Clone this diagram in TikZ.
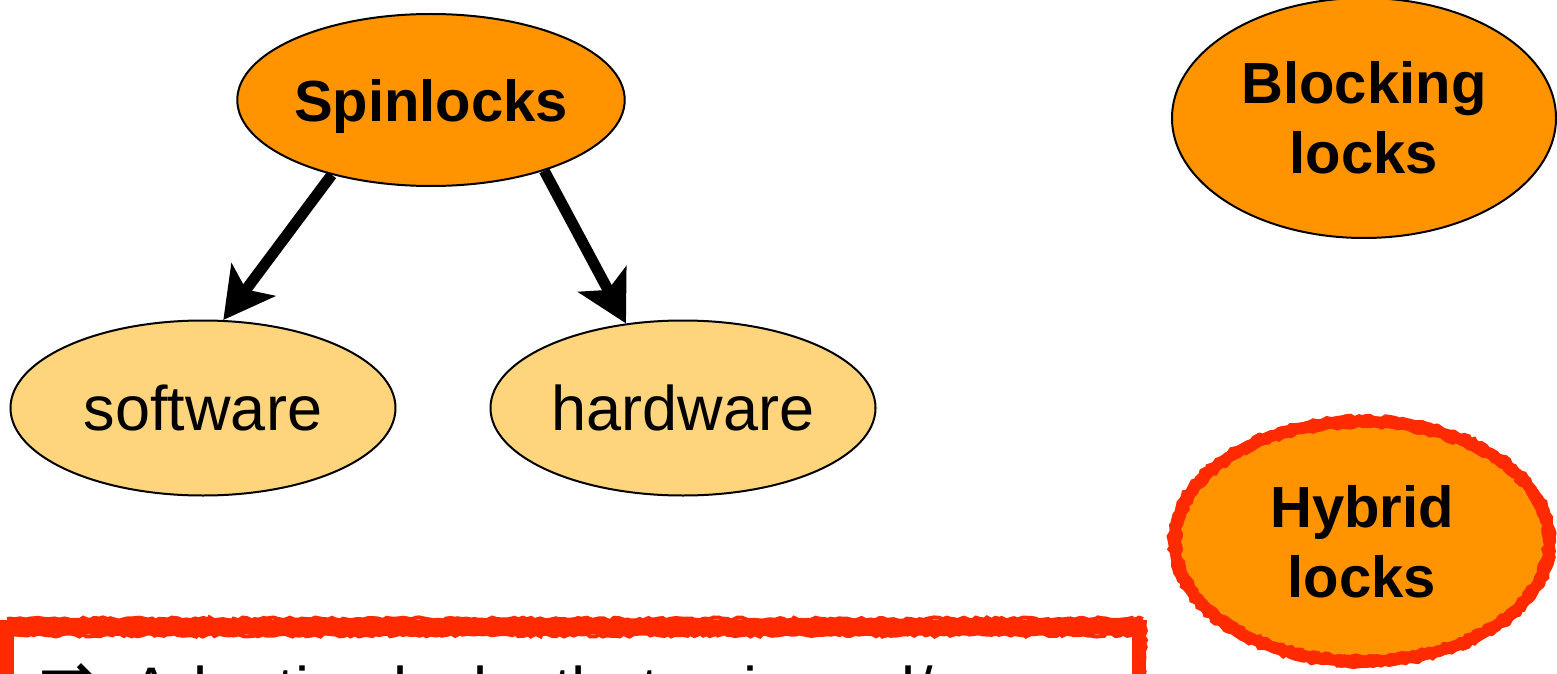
\documentclass[tikz,border=0pt]{standalone}
\usepackage{fontspec}
\setmainfont{Liberation Sans}
\newfontfamily\symfont{DejaVu Sans}
\usetikzlibrary{shapes.geometric,arrows.meta,decorations.pathmorphing}
\definecolor{lockorange}{HTML}{FF9400}
\definecolor{locklight}{HTML}{FED47D}
\definecolor{chalkred}{HTML}{FF2A00}
\tikzset{
  mainlock/.style={ellipse, draw=black, line width=1pt, fill=lockorange, inner sep=0pt,
    align=center, font=\bfseries\fontsize{29pt}{35pt}\selectfont},
  sublock/.style={ellipse, draw=black, line width=1pt, fill=locklight, inner sep=0pt,
    minimum width=192.5pt, minimum height=87.5pt, font=\fontsize{31.5pt}{38pt}\selectfont},
  arr/.style={line width=5.5pt, -{Stealth[length=25pt,width=27pt,inset=6pt]}},
  roughline/.style={draw=chalkred, line width=#1, decorate,
    decoration={random steps, segment length=2pt, amplitude=0.8pt}},
}
\begin{document}
\begin{tikzpicture}[x=0.5pt,y=-0.5pt]
\pgfmathsetseed{7}
\useasboundingbox (0,0) rectangle (1557,674);
\clip (0,0) rectangle (1557,674);

% lock families
\node[mainlock, minimum width=192pt, minimum height=86pt, text depth=0pt] (sp) at (431,100) {Spinlocks};
\node[mainlock, minimum width=192pt, minimum height=120pt] (bl) at (1364,118) {Blocking\\locks};
\node[sublock] (sw) at (203,408) {software};
\node[sublock] (hw) at (683,408) {hardware};

% hybrid locks with a hand-drawn red outline
\node[ellipse, fill=lockorange, inner sep=0pt, minimum width=188pt, minimum height=120pt,
  align=center, font=\bfseries\fontsize{29pt}{35pt}\selectfont] (hy) at (1362,541.5) {Hybrid\\locks};
\draw[chalkred, line width=5.5pt] (hy.center) ellipse [x radius=93.75pt, y radius=60pt];
\draw[roughline=1.5pt] (hy.center) ellipse [x radius=96.3pt, y radius=62.5pt];
\draw[roughline=1.5pt] (hy.center) ellipse [x radius=91.2pt, y radius=57.5pt];

% spinlock kinds
\draw[arr] (sp.217.4) -- (sw.77.5);
\draw[arr] (sp.328.5) -- (hw.124.2);

% conclusion box
\draw[chalkred, line width=7pt] (7,627) rectangle (1139,760);
\draw[roughline=2pt] (7,619) -- (1143,619);
\draw[roughline=2pt] (3,635) -- (1135,635);
\draw[roughline=2pt] (1,620) -- (1,760);
\draw[roughline=2pt] (1145,620) -- (1145,760);
\node[anchor=base west, inner sep=0pt, font=\fontsize{31.5pt}{38pt}\selectfont] (adaptive) at (38,711)
  {{\symfont\fontsize{36pt}{40pt}\selectfont\raisebox{5pt}{⇒}}\hspace{16pt}Adaptive locks that spin and/or};
\end{tikzpicture}
\end{document}
